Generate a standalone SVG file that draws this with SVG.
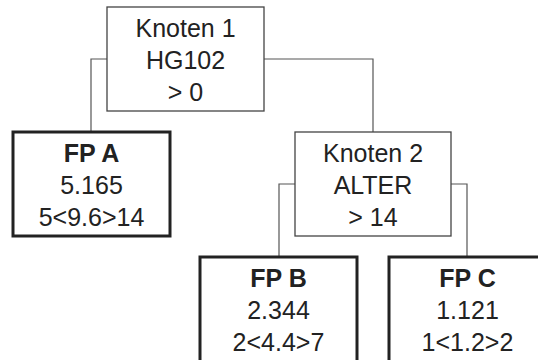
<svg xmlns="http://www.w3.org/2000/svg" width="538" height="360" viewBox="0 0 538 360">
<style>
.box{fill:#fff;stroke:#444;stroke-width:1.3}
.leaf{fill:#fff;stroke:#222;stroke-width:3}
.con{fill:none;stroke:#555;stroke-width:1.2}
text{font-family:"Liberation Sans",Arial,sans-serif;font-size:25px;fill:#222;text-anchor:middle}
.b{font-weight:bold}
</style>
<rect width="538" height="360" fill="#fff"/>
<g id="connectors">
<path class="con" d="M107,59 H91 V132"/>
<path class="con" d="M264,59 H373 V132"/>
<path class="con" d="M295,184 H279 V257"/>
<path class="con" d="M451,184 H467 V257"/>
</g>
<g id="knoten1">
<rect class="box" x="107" y="7" width="157" height="104"/>
<text x="185.5" y="37">Knoten 1</text>
<text x="185.5" y="69">HG102</text>
<text x="185.5" y="101">&gt; 0</text>
</g>
<g id="fpA">
<rect class="leaf" x="13" y="132" width="157" height="104"/>
<text class="b" x="91.5" y="162">FP A</text>
<text x="91.5" y="194">5.165</text>
<text x="91.5" y="226">5&lt;9.6&gt;14</text>
</g>
<g id="knoten2">
<rect class="box" x="295" y="132" width="156" height="104"/>
<text x="373" y="162">Knoten 2</text>
<text x="373" y="194">ALTER</text>
<text x="373" y="226">&gt; 14</text>
</g>
<g id="fpB">
<rect class="leaf" x="200" y="257" width="157" height="106"/>
<text class="b" x="278.5" y="287">FP B</text>
<text x="278.5" y="319">2.344</text>
<text x="278.5" y="351">2&lt;4.4&gt;7</text>
</g>
<g id="fpC">
<rect class="leaf" x="389" y="257" width="157" height="106"/>
<text class="b" x="467.5" y="287">FP C</text>
<text x="467.5" y="319">1.121</text>
<text x="467.5" y="351">1&lt;1.2&gt;2</text>
</g>
</svg>
